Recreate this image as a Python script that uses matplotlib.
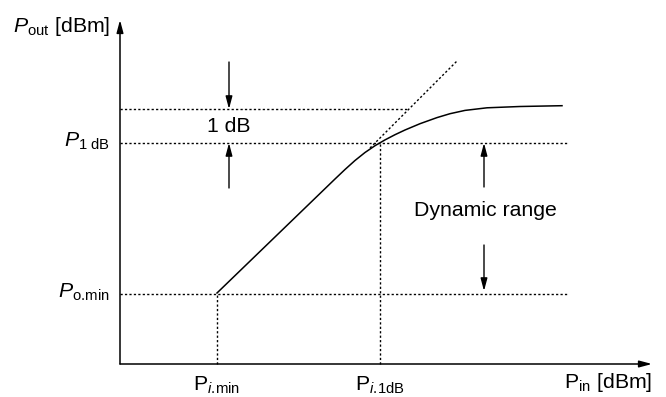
import matplotlib
matplotlib.use("Agg")
import matplotlib.pyplot as plt

plt.rcParams["font.family"] = ["Liberation Sans", "DejaVu Sans"]
plt.rcParams["mathtext.fontset"] = "custom"
plt.rcParams["mathtext.rm"] = "Liberation Sans"
plt.rcParams["mathtext.it"] = "Liberation Sans:italic"

# schematic units (origin at axis corner)
pin_min = 97
pin_1db = 260
pout_min = 70
pout_1db = 221
pout_1db_ext = 255   # 1 dB above the compression point
x_end = 448          # right end of the dotted guides
x_axis_end = 532
y_axis_end = 344

# transfer curve
curve_x = [97, 215, 225, 235, 245, 255, 265, 275, 285, 300, 317, 330, 345, 367, 400, 442]
curve_y = [71, 185, 194.5, 203.5, 211.5, 218.3, 224.1, 229.3, 234, 240.3, 246.4,
           250.3, 253.6, 256.2, 257.5, 258.3]

# linear extrapolation (dotted)
ext_x = [250, 338]
ext_y = [216, 304]

# double arrows
db_arrow_x = 109
db_arrow_top = (302, pout_1db_ext)
db_arrow_bot = (176, pout_1db)
dr_arrow_x = 364
dr_arrow_top = (177, pout_1db)
dr_arrow_bot = (119, pout_min + 3)

fig = plt.figure(figsize=(6.66, 3.97), dpi=100)
ax = fig.add_axes([0, 0, 1, 1])
ax.set_xlim(-120, 546)
ax.set_ylim(-33, 364)
ax.axis("off")

arrow = dict(arrowstyle="-|>,head_length=0.75,head_width=0.2", color="black",
             lw=1.1, shrinkA=0, shrinkB=0)

# axes
ax.annotate("", xy=(0, y_axis_end), xytext=(0, 0), arrowprops=arrow)
ax.annotate("", xy=(x_axis_end, 0), xytext=(0, 0), arrowprops=arrow)

dot = dict(color="black", lw=1.0, linestyle=(0, (1.6, 1.6)))
ax.plot([0, 288], [pout_1db_ext, pout_1db_ext], **dot)
ax.plot([0, x_end], [pout_1db, pout_1db], **dot)
ax.plot([0, x_end], [pout_min, pout_min], **dot)
ax.plot([pin_min, pin_min], [0, pout_min], **dot)
ax.plot([pin_1db, pin_1db], [0, pout_1db], **dot)
ax.plot(ext_x, ext_y, **dot)

ax.plot(curve_x, curve_y, color="black", lw=1.1, solid_joinstyle="round")

for x0, (ya, yb) in [(db_arrow_x, db_arrow_top), (db_arrow_x, db_arrow_bot),
                     (dr_arrow_x, dr_arrow_top), (dr_arrow_x, dr_arrow_bot)]:
    ax.annotate("", xy=(x0, yb), xytext=(x0, ya), arrowprops=dict(arrow, lw=1.0))

fs = 15.3
ax.text(db_arrow_x, 237, "1 dB", fontsize=fs, ha="center", va="center")
ax.text(dr_arrow_x + 1, 154, "Dynamic range", fontsize=fs, ha="center", va="center")

ax.text(-10, 338, r"$P_{\mathrm{out}}$ [dBm]", fontsize=fs, ha="right", va="center")
ax.text(-10, pout_1db + 2, r"$P_{\mathrm{1\ dB}}$", fontsize=fs, ha="right", va="center")
ax.text(-10, pout_min + 2, r"$P_{\mathrm{o.\!min}}$", fontsize=fs, ha="right", va="center")
ax.text(pin_min, -21, r"$\mathrm{P}_{i\mathrm{.\!min}}$", fontsize=fs, ha="center", va="center")
ax.text(pin_1db, -21, r"$\mathrm{P}_{i\mathrm{.\!1dB}}$", fontsize=fs, ha="center", va="center")
ax.text(x_axis_end, -19, r"$\mathrm{P}_{\mathrm{in}}$ [dBm]", fontsize=fs, ha="right", va="center")

fig.savefig("out.png", dpi=100)
plt.close(fig)
